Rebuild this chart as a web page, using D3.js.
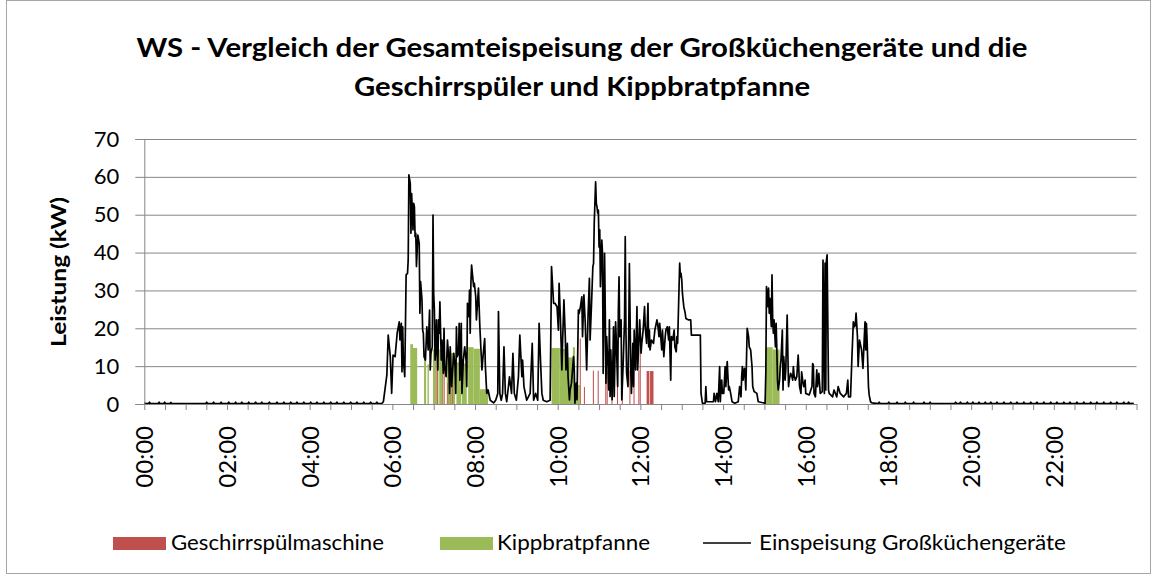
<!DOCTYPE html>
<html>
<head>
<meta charset="utf-8">
<script src="https://cdn.jsdelivr.net/npm/d3@7"></script>
<style>
  body { margin: 0; background: #fff; }
  svg { display: block; }
</style>
</head>
<body>
<div id="chart"></div>
<script>
// Einspeisung Großküchengeräte: [Minute des Tages, kW]
var einspeisung = [
  [0,0.3],[2,0.1],[6,0.1],[7.5,0.5],[9,0.1],[20,0.1],[21.5,0.5],[23,0.1],[28,0.1],[29.5,0.5],[31,0.1],
  [37,0.1],[38.5,0.4],[40,0.1],[89,0.1],[90.5,0.5],[92,0.1],[99,0.1],[100.5,0.5],[102,0.1],[110,0.1],
  [111.5,0.5],[113,0.1],[121,0.1],[122.5,0.5],[124,0.1],[131,0.1],[132.5,0.5],[134,0.1],[140,0.1],
  [141.5,0.5],[143,0.1],[150,0.1],[151.5,0.5],[153,0.1],[160,0.1],[161.5,0.5],[163,0.1],[169,0.1],
  [170.5,0.5],[172,0.1],[180,0.1],[181.5,0.5],[183,0.1],[191,0.1],[192.5,0.5],[194,0.1],[201,0.1],
  [202.5,0.5],[204,0.1],[211,0.1],[212.5,0.5],[214,0.1],[220,0.1],[221.5,0.5],[223,0.1],[230,0.1],
  [231.5,0.5],[233,0.1],[240,0.1],[241.5,0.5],[243,0.1],[249,0.1],[250.5,0.5],[252,0.1],[259,0.1],
  [260.5,0.5],[262,0.1],[269,0.1],[270.5,0.5],[272,0.1],[278,0.1],[279.5,0.5],[281,0.1],[288,0.1],
  [289.5,0.5],[291,0.1],[298,0.1],[299.5,0.5],[301,0.1],[307,0.1],[308.5,0.5],[310,0.1],[317,0.1],
  [318.5,0.5],[320,0.1],[327,0.1],[328.5,0.5],[330,0.1],[336,0.1],[337.5,0.5],[339,0.1],[345,0.2],
  [347,0.6],[352,7.6],[354,18.2],[357,12.5],[359,2.8],[361,12.9],[364,12.5],[367,18.7],[370,21.7],
  [371,16.9],[373,21.3],[374,8.5],[375,20.4],[376,11.6],[378,7.2],[380,34.1],[382,34.5],[383,38],
  [384,60.5],[386,58.3],[387,45.1],[388,55.6],[390,46],[391,53],[392,52.1],[393,44.2],[394,45.1],
  [395,36.3],[397,44.6],[399,42.4],[400,24],[401,32.3],[403,27.5],[404,19.5],[405,18.7],[406,12.5],
  [408,11.6],[410,20.4],[412,14.3],[414,24.8],[415,9],[416,13.4],[418,15.1],[419,49.9],[420,29.2],
  [421,24.8],[422,11.6],[423,13.4],[424,22.2],[426,9],[427,22.2],[428,18.7],[429,27],[431,11.6],
  [432,16.9],[434,8.1],[435,20],[436,9.9],[438,7.2],[440,16.9],[442,11.6],[443,2.8],[444,15.1],
  [446,4.6],[449,13.4],[451,9.9],[452,2.8],[453,20.4],[454,12.5],[456,13.4],[457,21.3],[458,6.3],
  [460,21.3],[461,2.8],[463,11.6],[465,15.1],[467,11.6],[468,4.6],[469,26.6],[471,23.1],[472,30.1],
  [473,18.7],[474,31.9],[475,36.7],[477,32.8],[478,31],[479,31.9],[481,28.4],[482,22.2],[485,30.6],
  [487,20.4],[490,9],[492,13.4],[494,17.3],[495,9.9],[497,2.8],[499,3.7],[502,1],[507,0.3],[510,1],
  [513,2.8],[514,24.4],[516,2.8],[518,1],[520,2.8],[522,15.1],[524,2.8],[526,0.6],[530,7.2],[533,2.8],
  [535,13.4],[537,2.8],[540,1],[543,7.2],[545,18.2],[548,7.2],[549,11.6],[551,4.6],[555,1],[560,2.8],
  [563,16],[565,1],[568,2.8],[571,1],[573,21.3],[575,11.6],[577,2.8],[579,1],[584,0.6],[589,1],
  [591,36.3],[594,26.6],[596,26.6],[599,25.7],[601,19.5],[602,31.9],[604,22.2],[606,9],[607,16],
  [609,27.5],[611,17.8],[612,9],[614,16],[615,7.2],[617,1.1],[618,3.7],[620,5.5],[623,12.5],[624,9],
  [625,0.2],[627,5.5],[628,1.1],[630,24.8],[631,23.9],[633,25.7],[635,28.3],[636,17.8],[638,28.8],
  [640,21.3],[642,9],[644,23.1],[646,33.2],[647,16.9],[649,26.1],[651,36.3],[652,37.1],[653,47.7],
  [655,58.7],[656,53],[657,52.1],[658,50.4],[659,51.2],[660,41.5],[661,46],[662,31],[664,43.3],
  [665,39.8],[666,8.1],[668,39.8],[669,24.8],[670,5.5],[671,17.8],[673,9.9],[674,3.7],[675,22.2],
  [676,2],[677,14.3],[679,1.1],[681,20.4],[682,2],[684,21.7],[685,16.9],[687,4.6],[688,24.8],[689,33.6],
  [690,17.8],[692,22.2],[693,1.1],[695,10.7],[697,22.2],[698,44.2],[699,19.5],[700,8.1],[702,4.6],
  [703,17.8],[704,37.1],[705,23.1],[706,9],[707,2.8],[709,16],[710,4.6],[711,19.5],[713,9],[715,25.7],
  [716,9],[718,17.8],[719,22.2],[721,13.4],[722,16],[724,19.5],[726,25.7],[727,20.4],[729,16],
  [731,26.6],[732,15.1],[733,19.5],[734,14.3],[736,16.9],[739,16],[741,19.5],[744,22.2],[745,21.3],
  [747,17.8],[748,21.3],[751,14.3],[752,19.5],[754,12.5],[756,17.8],[757,19.5],[759,20.4],[761,16.9],
  [762,20.4],[764,6.3],[765,17.8],[767,16.9],[769,19.5],[770,15.1],[772,13.8],[773,17.8],[774,16],
  [777,37.2],[778,33.6],[779,34.5],[780,32.8],[781,29.2],[783,25.7],[785,24],[786,22.6],[790,22.2],
  [793,22.2],[794,18.2],[807,18.2],[808,2.8],[810,0.2],[814,0.2],[815,4.6],[816,0.6],[826,0.6],
  [827,2.8],[829,0.6],[831,2.8],[833,0.6],[835,9.9],[836,0.6],[837,4.6],[838,6.3],[839,2.8],[841,2.8],
  [843,9.9],[844,4.6],[846,11.2],[848,3.7],[849,4.6],[851,2.8],[853,0.6],[857,0.2],[862,0.6],[864,4.6],
  [866,1.9],[867,7.2],[868,9.9],[869,6.3],[871,9.4],[872,7.2],[873,3.7],[875,20],[877,17.8],[878,15.1],
  [880,14.3],[882,9.9],[883,4.6],[885,3.3],[889,2.8],[891,0.6],[901,0.2],[902,8.1],[903,31],[905,25.7],
  [906,30.6],[907,24],[908,27.9],[910,20.4],[911,34.1],[912,22.2],[913,18.7],[914,22.2],[916,15.1],
  [917,21.3],[918,14.3],[919,6.3],[920,3.7],[922,6.3],[923,9.9],[924,11.6],[926,19.5],[927,3.7],
  [928,12.5],[930,6.3],[931,9],[933,23.5],[934,13.4],[935,4.6],[936,6.3],[938,8.1],[940,7.2],[941,6.3],
  [942,9.9],[943,7.6],[945,6.3],[947,7.2],[949,12.9],[951,4.6],[953,2.8],[954,8.5],[956,5.5],[957,4.6],
  [959,6.3],[960,2.8],[965,2.4],[969,4.6],[970,10.7],[971,10.3],[972,2.8],[974,1.9],[976,9],[977,4.6],
  [979,8.1],[981,2.8],[984,3.3],[985,38],[987,2.8],[988,37.2],[989,3.7],[990,38],[991,39.4],[993,3.7],
  [994,2.8],[999,1.9],[1001,3.7],[1005,1.9],[1007,4.6],[1010,2.8],[1015,1.9],[1019,2.8],[1021,6.3],
  [1022,1.9],[1025,1.9],[1027,12.5],[1028,16.9],[1029,21.7],[1031,20.4],[1032,21.3],[1033,24],
  [1035,17.8],[1036,9.9],[1038,16.9],[1041,14.3],[1043,9.4],[1045,17.8],[1046,21.7],[1047,14.3],
  [1048,21.3],[1049,16.9],[1051,4.6],[1052,2.4],[1054,0.6],[1056,0.3],
  [1065,0.1],[1066.5,0.5],[1068,0.1],[1079,0.1],[1080.5,0.5],[1082,0.1],[1091,0.1],[1092.5,0.5],
  [1094,0.1],[1103,0.1],[1104.5,0.5],[1106,0.1],[1115,0.1],[1116.5,0.5],[1118,0.1],[1130,0.1],
  [1131.5,0.5],[1133,0.1],[1139,0.1],[1140.5,0.5],[1142,0.1],[1176,0.1],[1177.5,0.5],[1179,0.1],
  [1183,0.1],[1184.5,0.5],[1186,0.1],[1193,0.1],[1194.5,0.5],[1196,0.1],[1201,0.1],[1202.5,0.5],
  [1204,0.1],[1210,0.1],[1211.5,0.5],[1213,0.1],[1219,0.1],[1220.5,0.5],[1222,0.1],[1227,0.1],
  [1228.5,0.5],[1230,0.1],[1236,0.1],[1237.5,0.5],[1239,0.1],[1246,0.1],[1247.5,0.5],[1249,0.1],
  [1256,0.1],[1257.5,0.5],[1259,0.1],[1265,0.1],[1266.5,0.5],[1268,0.1],[1275,0.1],[1276.5,0.5],
  [1278,0.1],[1285,0.1],[1286.5,0.5],[1288,0.1],[1294,0.1],[1295.5,0.5],[1297,0.1],[1304,0.1],
  [1305.5,0.5],[1307,0.1],[1314,0.1],[1315.5,0.5],[1317,0.1],[1323,0.1],[1324.5,0.5],[1326,0.1],
  [1333,0.1],[1334.5,0.5],[1336,0.1],[1342,0.1],[1343.5,0.5],[1345,0.1],[1352,0.1],[1353.5,0.5],
  [1355,0.1],[1362,0.1],[1363.5,0.5],[1365,0.1],[1372,0.1],[1373.5,0.5],[1375,0.1],[1381,0.1],
  [1382.5,0.5],[1384,0.1],[1391,0.1],[1392.5,0.5],[1394,0.1],[1401,0.1],[1402.5,0.5],[1404,0.1],
  [1410,0.1],[1411.5,0.5],[1413,0.1],[1420,0.1],[1421.5,0.5],[1423,0.1],[1427,0.1],[1428.5,0.5],
  [1430,0.1],[1436,0.2]
];

// Kippbratpfanne: Beginn (Minute), Dauer (min), Leistung (kW)
var kippStart = [386, 390, 406, 411, 419, 424, 428, 439, 445, 453, 461, 470, 478, 487, 591, 603, 615, 622, 625, 902, 912];
var kippDauer = [4, 6, 3, 2, 4, 3, 6, 5, 6, 7, 7, 8, 9, 12, 12, 12, 7, 3, 7, 10, 10];
var kippWert  = [15.8, 14.8, 14.2, 10.5, 14.5, 14.5, 14.4, 14.2, 13.5, 11, 10.7, 15, 14.6, 3.9, 14.8, 14.5, 12.3, 15, 5, 15, 14.4];

// Geschirrspülmaschine
var spuelStart = [423, 425, 433, 435, 440, 444, 447, 632, 638, 651, 658, 669, 671, 678, 686, 693, 704, 710, 717, 719, 729, 734];
var spuelDauer = [1, 1, 1, 1, 1, 1, 1, 1.5, 1.5, 1.5, 1.5, 1.5, 1.5, 1.5, 1.5, 1.5, 1.5, 1.5, 1.5, 1.5, 4, 5];
var spuelWert  = [14.2, 16.9, 16.9, 14.2, 5.5, 5.5, 6.4, 17.3, 4.5, 8.8, 8.8, 8.8, 8.8, 8.8, 8.8, 8.8, 8.8, 8.8, 8.8, 18, 8.7, 8.7];

var yTicks = [0, 10, 20, 30, 40, 50, 60, 70];
var xLabels = ["00:00", "02:00", "04:00", "06:00", "08:00", "10:00", "12:00", "14:00", "16:00", "18:00", "20:00", "22:00"];

var width = 1157, height = 577;
var plotLeft = 144.3, plotRight = 1136.5, plotTop = 139, plotBottom = 404;
var font = "Lato, 'Liberation Sans', sans-serif";

var svg = d3.select('#chart').append('svg')
  .attr('width', width)
  .attr('height', height);

svg.append('rect')
  .attr('x', 6.5).attr('y', 0.5)
  .attr('width', 1144).attr('height', 573)
  .attr('fill', '#fff').attr('stroke', '#a6a6a6');

var x = d3.scaleLinear().domain([0, 1440]).range([plotLeft, plotRight]);
var y = d3.scaleLinear().domain([0, 70]).range([plotBottom, plotTop]);

// grid
svg.append('g')
  .attr('transform', 'translate(' + plotLeft + ',0)')
  .call(d3.axisLeft(y).tickValues(yTicks).tickSize(-(plotRight - plotLeft)).tickFormat(''))
  .call(function(g) {
    g.select('.domain').remove();
    g.selectAll('line').attr('stroke', '#868686');
  });

// bars
function bars(starts, dauer, werte, color) {
  svg.append('g').selectAll('rect')
    .data(starts)
    .enter()
    .append('rect')
    .attr('x', function(d) { return x(d); })
    .attr('width', function(d, i) { return x(d + dauer[i]) - x(d); })
    .attr('y', function(d, i) { return y(werte[i]); })
    .attr('height', function(d, i) { return y(0) - y(werte[i]); })
    .attr('fill', color);
}
bars(kippStart, kippDauer, kippWert, '#9BBB59');
bars(spuelStart, spuelDauer, spuelWert, '#C0504D');

// line
var line = d3.line()
  .x(function(d) { return x(d[0]); })
  .y(function(d) { return y(d[1]); });

svg.append('path')
  .datum(einspeisung)
  .attr('d', line)
  .attr('fill', 'none')
  .attr('stroke', '#000')
  .attr('stroke-width', 1.7)
  .attr('stroke-linejoin', 'round');

// y axis
svg.append('g')
  .attr('transform', 'translate(' + plotLeft + ',0)')
  .call(d3.axisLeft(y).tickValues(yTicks).tickSize(9).tickPadding(16))
  .call(function(g) {
    g.selectAll('line, path').attr('stroke', '#868686');
    g.selectAll('text').attr('font-family', font).attr('font-size', 22).attr('fill', '#000');
  });

// x axis
svg.append('g')
  .attr('transform', 'translate(0,' + plotBottom + ')')
  .call(d3.axisBottom(x).tickValues(d3.range(0, 1441, 30)).tickSize(6).tickSizeOuter(0)
    .tickFormat(function(d) { return d % 120 === 0 && d < 1440 ? xLabels[d / 120] : ''; }))
  .call(function(g) {
    g.selectAll('line, path').attr('stroke', '#868686');
    g.selectAll('text')
      .attr('font-family', font).attr('font-size', 24).attr('fill', '#000')
      .attr('transform', 'rotate(-90)')
      .attr('x', -22).attr('y', 0).attr('dy', '0.35em')
      .style('text-anchor', 'end');
  });

// y title
svg.append('text')
  .attr('transform', 'translate(66,272) rotate(-90)')
  .attr('text-anchor', 'middle')
  .attr('font-family', font).attr('font-weight', 'bold').attr('font-size', 21)
  .attr('textLength', 150).attr('lengthAdjust', 'spacingAndGlyphs')
  .text('Leistung (kW)');

// title
var titel = ['WS - Vergleich der Gesamteispeisung der Großküchengeräte und die', 'Geschirrspüler und Kippbratpfanne'];
var titelBreite = [891, 456];
svg.selectAll('.titel')
  .data(titel)
  .enter()
  .append('text')
  .attr('x', 582)
  .attr('y', function(d, i) { return 57 + i * 39; })
  .attr('text-anchor', 'middle')
  .attr('font-family', font).attr('font-weight', 'bold').attr('font-size', 26)
  .attr('textLength', function(d, i) { return titelBreite[i]; })
  .attr('lengthAdjust', 'spacingAndGlyphs')
  .text(function(d) { return d; });

// legend
var legende = [
  { name: 'Geschirrspülmaschine', color: '#C0504D', typ: 'bar', x: 113, tx: 171, w: 213 },
  { name: 'Kippbratpfanne', color: '#9BBB59', typ: 'bar', x: 440, tx: 497, w: 153 },
  { name: 'Einspeisung Großküchengeräte', color: '#000', typ: 'line', x: 703, tx: 759, w: 307 }
];
var lg = svg.append('g').attr('transform', 'translate(0,543)');
legende.forEach(function(l) {
  if (l.typ === 'bar') {
    lg.append('rect').attr('x', l.x).attr('y', -6).attr('width', 53).attr('height', 13).attr('fill', l.color);
  } else {
    lg.append('line').attr('x1', l.x).attr('x2', l.x + 48).attr('y1', 0).attr('y2', 0)
      .attr('stroke', l.color).attr('stroke-width', 1.4);
  }
  lg.append('text')
    .attr('x', l.tx).attr('y', 0).attr('dy', '0.35em')
    .attr('font-family', font).attr('font-size', 21)
    .attr('textLength', l.w).attr('lengthAdjust', 'spacingAndGlyphs')
    .text(l.name);
});
</script>
</body>
</html>
